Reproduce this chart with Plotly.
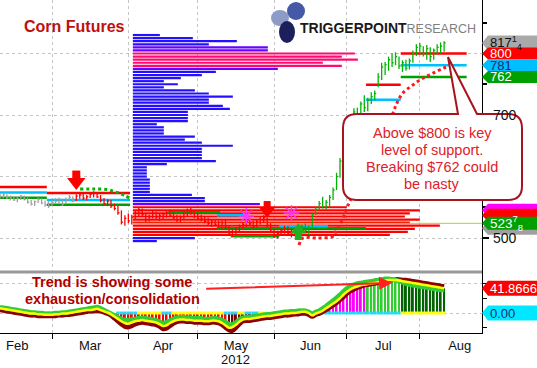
import numpy as np
import pandas as pd
import plotly.graph_objects as go
from fractions import Fraction

# ---------------- DATA ----------------
HOLIDAYS = ["2012-02-20", "2012-04-06", "2012-05-28", "2012-07-04"]
FIRST_DAY = "2012-02-08"
LAST_DAY = "2012-08-10"
trade_dates = pd.bdate_range(FIRST_DAY, LAST_DAY, freq="C", holidays=HOLIDAYS)

# daily high / low / close  (Feb | Mar | Apr | May | Jun | Jul | Aug)
price_high = [572, 573, 571, 569, 568, 567, 570, 569, 566, 562, 561, 566, 565, 561, 560,
              562, 565, 566, 564, 566, 570, 568, 571, 574, 572, 570, 575, 576, 574, 570, 565, 563, 562, 556, 552, 545, 537,
              540, 538, 545, 550, 548, 540, 538, 544, 543, 539, 541, 544, 546, 542, 538, 537, 543, 548, 550, 545,
              541, 538, 536, 533, 530, 531, 528, 529, 530, 520, 515, 518, 522, 526, 530, 532, 528, 530, 534, 537, 533, 524,
              515, 512, 516, 520, 519, 514, 517, 520, 522, 524, 520, 541, 550, 560, 567, 562, 570, 582, 606, 630, 656,
              680, 700, 711, 712, 722, 732, 728, 737, 740, 768, 785, 786, 795, 800, 802, 795, 789, 790, 792, 805, 815,
              817, 812, 814, 810, 808, 815, 818, 820]
price_low = [564, 565, 563, 561, 560, 558, 562, 561, 556, 553, 552, 557, 555, 551, 549,
             552, 556, 556, 552, 555, 560, 558, 560, 564, 562, 561, 565, 566, 565, 558, 553, 552, 549, 545, 538, 522, 520,
             524, 522, 530, 536, 535, 526, 527, 532, 531, 528, 530, 533, 534, 530, 526, 525, 531, 536, 538, 532,
             529, 527, 524, 520, 518, 519, 516, 515, 514, 505, 502, 505, 510, 514, 518, 519, 515, 517, 522, 525, 518, 508,
             500, 499, 504, 507, 505, 501, 503, 508, 510, 510, 505, 515, 538, 545, 548, 546, 550, 562, 578, 598, 624,
             650, 672, 690, 695, 698, 705, 706, 718, 724, 745, 757, 765, 772, 778, 781, 775, 770, 772, 774, 785, 796,
             798, 795, 790, 786, 790, 798, 800, 803]
price_close = [568, 570, 566, 565, 562, 564, 568, 563, 558, 555, 559, 563, 557, 554, 552,
               558, 560, 563, 555, 562, 566, 560, 568, 570, 565, 567, 571, 573, 567, 561, 556, 560, 552, 548, 541, 526, 532,
               528, 534, 540, 546, 538, 530, 535, 540, 534, 536, 538, 541, 537, 533, 530, 534, 540, 545, 542, 535,
               532, 531, 527, 524, 526, 522, 520, 525, 518, 508, 510, 514, 518, 522, 527, 523, 519, 526, 530, 533, 521, 511,
               504, 507, 512, 515, 508, 506, 513, 516, 518, 513, 517, 538, 546, 556, 551, 558, 566, 578, 600, 625, 650,
               676, 695, 705, 700, 718, 712, 724, 730, 735, 762, 778, 782, 790, 785, 795, 780, 785, 776, 788, 800, 810,
               812, 800, 808, 795, 805, 810, 812, 817.25]

# oscillator panel: momentum (yellow line / histogram), fast (green), slow (dark red)
osc_value = [8, 7, 6, 5, 4, 3, 2, 1, 0, -1, -1, -2, -2, -3, -3,
             -3, -2, -2, -1, -1, 0, 1, 2, 3, 4, 5, 5, 6, 7, 5, 3, 1, -2, -6, -10, -14, -17,
             -18, -16, -14, -13, -12, -13, -14, -15, -16, -19, -22, -21, -17, -14, -12, -11, -11, -12, -12, -13,
             -13, -13, -14, -14, -13, -13, -14, -17, -21, -25, -24, -20, -15, -11, -10, -10, -9, -8, -7, -6, -5, -5,
             -4, -3, -2, -1, -1, 0, 0, 1, 2, 2, 0, -4, -1, 1, 4, 8, 12, 16, 20, 25, 31,
             36, 40, 43, 45, 47, 48, 49, 50, 51, 52, 54, 55, 56, 56, 56, 55, 54, 53, 52, 51, 50,
             49, 48, 47, 46, 45, 44, 43, 41.8666]
osc_fast = [10, 9, 8, 7, 6, 5, 4, 3, 2, 1, 1, 0, 0, -1, -1,
            -1, 0, 0, 1, 1, 2, 3, 4, 5, 6, 7, 8, 9, 10, 8, 5, 2, -1, -4, -7, -10, -12,
            -12, -11, -10, -9, -8, -9, -10, -11, -12, -15, -17, -16, -13, -10, -8, -7, -7, -8, -8, -9,
            -9, -9, -10, -10, -9, -9, -10, -12, -15, -19, -19, -16, -11, -8, -7, -7, -6, -5, -4, -3, -2, -2,
            -1, 0, 1, 2, 2, 3, 3, 4, 4, 4, 2, -1, 2, 4, 8, 12, 17, 21, 26, 31, 37,
            42, 46, 48, 50, 51, 52, 53, 54, 55, 56, 57, 58, 58, 57, 56, 54, 52, 50, 48, 47, 46,
            45, 44, 43, 42, 41, 40, 39, 39]
osc_slow = [5, 4, 3, 2, 1, 0, -1, -2, -3, -4, -4, -5, -5, -5, -5,
            -5, -5, -4, -4, -3, -3, -2, -1, 0, 1, 2, 3, 3, 4, 3, 1, -1, -4, -9, -14, -19, -23,
            -24, -22, -19, -17, -16, -17, -18, -19, -20, -23, -27, -26, -22, -18, -15, -14, -14, -15, -15, -16,
            -16, -16, -17, -17, -16, -16, -17, -20, -25, -29, -30, -25, -19, -14, -13, -13, -12, -11, -10, -9, -8, -8,
            -7, -6, -5, -4, -4, -3, -2, -2, -1, -1, -3, -6, -3, -1, 2, 5, 9, 13, 17, 22, 27,
            33, 37, 40, 43, 45, 47, 48, 49, 50, 51, 53, 54, 55, 56, 57, 57, 56, 56, 55, 54, 53,
            52, 51, 50, 49, 48, 47, 46, 45]

# volume-at-price profile (price bins, relative volume)
vp_price = list(range(830, 490, -5))
vp_volume = [27, 60, 104, 76, 135, 135, 222, 209, 225, 190, 209, 145, 83, 69, 48, 31, 45, 31, 62, 76,
             100, 76, 76, 90, 97, 55, 55, 55, 55, 24, 31, 31, 31, 62, 52, 69, 100, 69, 69, 69,
             69, 83, 34, 14, 14, 14, 14, 17, 17, 17, 17, 17, 59, 72, 72, 127, 214, 287, 277, 272,
             287, 277, 307, 282, 275, 257, 62, 24]
VP_START = "2012-04-03"

# support / resistance levels
seg_start = ["2012-02-08"] * 3 + ["2012-02-29"] * 3 + ["2012-04-19", "2012-05-09", "2012-05-09", "2012-05-15",
             "2012-06-05", "2012-07-11", "2012-07-11", "2012-07-25", "2012-07-25", "2012-07-25"]
seg_end = ["2012-02-28"] * 3 + ["2012-04-02"] * 3 + ["2012-05-09", "2012-05-18", "2012-07-10", "2012-06-04",
           "2012-06-22", "2012-07-24", "2012-07-24", "2012-08-20", "2012-08-20", "2012-08-20"]
seg_level = [583, 574, 565.5, 573, 562, 554, 542, 537, 516, 503, 519, 749, 725, 800, 781, 762]
seg_kind = ["R", "C", "G", "R", "C", "G", "G", "C", "G", "G", "C", "R", "C", "R", "C", "G"]

last_line_level = 523.875

# trailing stop curves (trading-day position, price)
trail_green_x = [23.1, 27.0, 30.8, 33.1, 34.6, 36.0, 37.5]
trail_green_y = [579.7, 579.7, 579.0, 575.0, 572.6, 568.8, 564.5]
trail_red_x = [86.2, 87.3, 91.6, 96.0, 97.1, 98.6, 100.0, 101.4, 105.2, 108.9, 113.0, 114.4, 116.1, 119.0, 121.9, 124.8, 127.7, 128.8]
trail_red_y = [488.6, 500, 500, 503, 514.6, 529, 548.8, 566.7, 610, 659, 700, 719.5, 735.8, 748.8, 760, 768, 776, 778]

# signal arrows and stars
arrow_dates = ["2012-03-12", "2012-05-30", "2012-06-12"]
arrow_tip = [578, 532.5, 524.4]
arrow_dir = ["down", "down", "up"]
star_dates = ["2012-05-21", "2012-06-08"]
star_price = [536, 540.7]

# right-hand value tags
main_tags = [817.25, 800, 781, 762]
low_main_tags = [545, 537, 516, 523.875]
osc_tags = [41.8666, 0.0]

# squeeze dots (cyan periods)
cyan_periods = [("2012-03-28", "2012-04-04"), ("2012-04-17", "2012-04-19"), ("2012-05-11", "2012-05-16"),
                ("2012-05-21", "2012-05-24"), ("2012-06-20", "2012-07-24")]
HIST_START = "2012-03-28"

month_names = ["Feb", "Mar", "Apr", "May", "Jun", "Jul", "Aug"]
price_labels = [500, 700]

# ---------------- HELPERS / STYLE ----------------
FONT = "Liberation Sans, Arial, sans-serif"
W, H = 537, 368
PLOT_W, PLOT_H = 482, 333
SPLIT_PX = 270
SPLIT = (PLOT_H - SPLIT_PX) / PLOT_H
Y_MAIN = [448, 887]
Y_LOW = [-33.9, 72.9]
K_MAIN = SPLIT_PX / (Y_MAIN[1] - Y_MAIN[0])
K_LOW = (PLOT_H - SPLIT_PX) / (Y_LOW[1] - Y_LOW[0])
PX_PER_TD = 3.47
X_RANGE = [15 - 52 / PX_PER_TD, 15 + 430 / PX_PER_TD]

RED, CYAN, GREEN = "#ff0000", "#00bfff", "#00a000"
KIND_COLOR = {"R": RED, "C": CYAN, "G": GREEN}


def tidx(d):
    return int(np.busday_count(np.datetime64(FIRST_DAY, "D"), np.datetime64(d, "D"),
                               holidays=[np.datetime64(h, "D") for h in HOLIDAYS]))


def P(X, Y):
    return f"{X / PLOT_W:.5f},{(PLOT_H - Y) / PLOT_H:.5f}"


def fmt_price(v):
    whole = int(v)
    frac = Fraction(v - whole).limit_denominator(8)
    if frac == 0:
        return f"{whole}"
    return f"{whole}<sup>{frac.numerator}</sup><sub>{frac.denominator}</sub>"


n = len(trade_dates)
assert n == len(price_high) == len(price_low) == len(price_close) == len(osc_value) == len(osc_fast) == len(osc_slow)
idx = list(range(n))

fig = go.Figure()

# volume profile
vp_colors = []
for p, v in zip(vp_price, vp_volume):
    if v >= 180:
        vp_colors.append("#ff0a70" if p > 700 else "#ff0000")
    elif v >= 120:
        vp_colors.append("#6a00ff")
    else:
        vp_colors.append("#2410ff")
VP_BASE = tidx(VP_START) + 0.3
fig.add_trace(go.Bar(y=vp_price, x=[v / PX_PER_TD for v in vp_volume], base=VP_BASE,
                     orientation="h", width=3.6, marker=dict(color=vp_colors, line=dict(width=0)),
                     xaxis="x", yaxis="y", hoverinfo="skip"))

# last price line
fig.add_trace(go.Scatter(x=[VP_BASE, X_RANGE[1]], y=[last_line_level] * 2, mode="lines",
                         line=dict(color="#9be600", width=1), xaxis="x", yaxis="y", hoverinfo="skip"))

# support / resistance segments
for kind in ["G", "C", "R"]:
    xs, ys = [], []
    for s, e, lv, k in zip(seg_start, seg_end, seg_level, seg_kind):
        if k != kind:
            continue
        xs += [tidx(s) - 0.5, tidx(e) + 0.5, None]
        ys += [lv, lv, None]
    fig.add_trace(go.Scatter(x=xs, y=ys, mode="lines", line=dict(color=KIND_COLOR[kind], width=2.5),
                             xaxis="x", yaxis="y", hoverinfo="skip"))

# price HLC bars
gray_end = tidx("2012-03-12")
green_start = tidx("2012-06-12")
groups = [("#a0a0a0", range(0, gray_end)), ("#ff0000", range(gray_end, green_start)), ("#00b400", range(green_start, n))]
for col, rng in groups:
    xs, ys = [], []
    for i in rng:
        xs += [i, i, None, i, i + 0.45, None]
        ys += [price_low[i], price_high[i], None, price_close[i], price_close[i], None]
    fig.add_trace(go.Scatter(x=xs, y=ys, mode="lines", line=dict(color=col, width=1.3),
                             xaxis="x", yaxis="y", hoverinfo="skip"))

# trailing dotted curves
fig.add_trace(go.Scatter(x=trail_green_x, y=trail_green_y, mode="lines", line=dict(color="#00b400", width=3, dash="dot", shape="spline"),
                         xaxis="x", yaxis="y", hoverinfo="skip"))
fig.add_trace(go.Scatter(x=trail_red_x, y=trail_red_y, mode="lines", line=dict(color="#ff1a1a", width=3, dash="dot", shape="spline"),
                         xaxis="x", yaxis="y", hoverinfo="skip"))

# signal arrows (block arrows made of triangle head + square stem)
for d, tip, dr in zip(arrow_dates, arrow_tip, arrow_dir):
    xi = tidx(d)
    big = d == arrow_dates[0]
    s = 16 if big else 14
    w = 8 if big else 7
    r = s / 2
    col = "#ff0000" if dr == "down" else "#22b022"
    if dr == "down":
        c = tip + r / K_MAIN
        top = c + (r / 2) / K_MAIN
        stem = top + (w / 2 - 0.5) / K_MAIN
        sym = "triangle-down"
    else:
        c = tip - r / K_MAIN
        top = c - (r / 2) / K_MAIN
        stem = top - (w / 2 - 0.5) / K_MAIN
        sym = "triangle-up"
    fig.add_trace(go.Scatter(x=[xi], y=[stem], mode="markers", marker=dict(symbol="square", size=w, color=col, line=dict(width=0)),
                             xaxis="x", yaxis="y", hoverinfo="skip"))
    fig.add_trace(go.Scatter(x=[xi], y=[c], mode="markers", marker=dict(symbol=sym, size=s, color=col, line=dict(width=0)),
                             xaxis="x", yaxis="y", hoverinfo="skip"))

fig.add_trace(go.Scatter(x=[tidx(d) for d in star_dates], y=star_price, mode="markers",
                         marker=dict(symbol="asterisk-open", size=13, color="#ff33ff", line=dict(color="#ff33ff", width=1.5)),
                         xaxis="x", yaxis="y", hoverinfo="skip"))

# ---------------- oscillator panel ----------------
h0 = tidx(HIST_START)
dark_a, dark_b = tidx("2012-05-14"), tidx("2012-05-30")
lg_a, dg_a = tidx("2012-07-11"), tidx("2012-07-25")
hx, hy, hc = [], [], []
for i in range(h0, n):
    v = osc_value[i]
    if v < 0:
        col = "#7a0000" if dark_a <= i <= dark_b else "#ff0000"
    else:
        col = "#ff00ff" if i < lg_a else ("#33cc33" if i < dg_a else "#006400")
    hx.append(i)
    hy.append(v)
    hc.append(col)
fig.add_trace(go.Bar(x=hx, y=hy, width=0.55, marker=dict(color=hc, line=dict(width=0)), xaxis="x", yaxis="y2", hoverinfo="skip"))

cyan_idx = set()
for a, b in cyan_periods:
    cyan_idx.update(range(tidx(a), tidx(b) + 1))
sx = list(range(h0, n))
sc = ["#22d8f5" if i in cyan_idx else "#ffff00" for i in sx]
fig.add_trace(go.Bar(x=sx, y=[5.0] * len(sx), base=-2.5, width=1.0, marker=dict(color=sc, line=dict(width=0)),
                     xaxis="x", yaxis="y2", hoverinfo="skip"))

fig.add_trace(go.Scatter(x=idx, y=osc_slow, mode="lines", line=dict(color="#8b0000", width=4.5, shape="spline"),
                         xaxis="x", yaxis="y2", hoverinfo="skip"))
fig.add_trace(go.Scatter(x=idx, y=osc_fast, mode="lines", line=dict(color="#33cc33", width=4.5, shape="spline"),
                         xaxis="x", yaxis="y2", hoverinfo="skip"))
fig.add_trace(go.Scatter(x=idx, y=osc_value, mode="lines", line=dict(color="#ffff00", width=2.5, shape="spline"),
                         xaxis="x", yaxis="y2", hoverinfo="skip"))

# ---------------- axes ----------------
bounds = [tidx(f"2012-{m:02d}-01") for m in range(2, 10)]   # Feb..Sep first trading days
month_mid = [(bounds[i] + bounds[i + 1]) / 2 for i in range(len(month_names))]
grid = dict(gridcolor="#c4c4c4", griddash="dot", gridwidth=1)

fig.update_layout(
    template="none",
    width=W, height=H, margin=dict(l=0, r=W - PLOT_W, t=0, b=H - PLOT_H, pad=0, autoexpand=False),
    paper_bgcolor="white", plot_bgcolor="white", showlegend=False, barmode="overlay",
    font=dict(family=FONT, color="#111"), hovermode=False,
    xaxis=dict(domain=[0, 1], range=X_RANGE, anchor="y2", automargin=False, showline=True, linecolor="black", linewidth=1,
               tickmode="array", tickvals=month_mid, ticktext=month_names, ticks="", showgrid=False, zeroline=False,
               tickfont=dict(size=13, color="#111"),
               minor=dict(tickmode="array", tickvals=bounds[1:7], ticks="outside", ticklen=5, tickcolor="black",
                          showgrid=True, **grid)),
    yaxis=dict(domain=[SPLIT, 1], range=Y_MAIN, side="right", anchor="x", automargin=False, showline=True, linecolor="black",
               tickmode="array", tickvals=[500, 600, 700, 800], showticklabels=False,
               ticks="outside", ticklen=6, tickwidth=2, tickcolor="black", showgrid=True, zeroline=False,
               minor=dict(tickmode="array", tickvals=[550, 650, 750, 850], ticks="outside", ticklen=4, tickcolor="black",
                          showgrid=False), **grid),
    yaxis2=dict(domain=[0, SPLIT], range=Y_LOW, side="right", anchor="x", automargin=False, showline=True, linecolor="black",
                tickmode="array", tickvals=[0, 50], showticklabels=False, ticks="outside", ticklen=4, tickcolor="black",
                showgrid=True, zeroline=False,
                minor=dict(tickmode="array", tickvals=[-25, 25], ticks="outside", ticklen=4, tickcolor="black",
                           showgrid=False), **grid),
)

shapes = []
annotations = []

# separator between panels
shapes.append(dict(type="line", xref="paper", yref="paper", x0=0, x1=1, y0=(PLOT_H - 272) / PLOT_H, y1=(PLOT_H - 272) / PLOT_H,
                   line=dict(color="#999999", width=3), layer="above"))

# callout box (drawn first so the axis labels/tags sit above it)
r = 14
L_, R_, T_, B_ = 343, 522, 114, 200
callout = (f"M {P(L_ + r, T_)} L {P(458, T_)} L {P(448, 57)} L {P(477, T_)} L {P(R_ - r, T_)} "
           f"Q {P(R_, T_)} {P(R_, T_ + r)} L {P(R_, B_ - r)} Q {P(R_, B_)} {P(R_ - r, B_)} "
           f"L {P(L_ + r, B_)} Q {P(L_, B_)} {P(L_, B_ - r)} L {P(L_, T_ + r)} Q {P(L_, T_)} {P(L_ + r, T_)} Z")
shapes.append(dict(type="path", xref="paper", yref="paper", path=callout, fillcolor="white",
                   line=dict(color="#a8141e", width=2), layer="above"))
for txt, yy in zip(["Above $800 is key", "level of support.", "Breaking $762 could", "be nasty"], [133, 150, 167, 184]):
    annotations.append(dict(x=432 / PLOT_W, y=(PLOT_H - yy) / PLOT_H, xref="paper", yref="paper", text=txt,
                            showarrow=False, xanchor="center", yanchor="middle",
                            font=dict(size=14.5, color="#e0202a")))

# price axis labels (drawn as text so they stay above the callout, as in the original)
for v in price_labels:
    annotations.append(dict(x=1.0 + 9 / PLOT_W, xref="paper", y=v, yref="y", text=str(v), showarrow=False,
                            xanchor="left", yanchor="middle", font=dict(size=14, color="#111")))


def add_tag(val, yref, k, half_px, fill, text=None, tcolor="white", size=13):
    h = half_px / k
    xa, xb, xc = 1.0, 1.0 + 6 / PLOT_W, 1.0 + 60 / PLOT_W
    shapes.append(dict(type="path", xref="paper", yref=yref,
                       path=f"M {xa},{val} L {xb},{val + h} L {xc},{val + h} L {xc},{val - h} L {xb},{val - h} Z",
                       fillcolor=fill, line=dict(width=0), layer="above"))
    if text is not None:
        annotations.append(dict(x=1.0 + 7 / PLOT_W, xref="paper", y=val, yref=yref, text=text, showarrow=False,
                                xanchor="left", yanchor="middle", borderpad=0, font=dict(size=size, color=tcolor)))


main_tag_fill = ["#a9a9a9", "#ff0000", "#00bfff", "#00a000"]
main_tag_text = ["#111111", "white", "#14287a", "white"]
for v, f, tc, hp in zip(main_tags, main_tag_fill, main_tag_text, [7.5, 6, 6, 6]):
    add_tag(v, "y", K_MAIN, hp, f, fmt_price(v), tc, 13)

low_fill = ["#ff00ff", "#ff0000", "#a0a0a0", "#00a000"]
for v, f in zip(low_main_tags, low_fill):
    add_tag(v, "y", K_MAIN, 6.5, f, fmt_price(v) if v == last_line_level else None, "white", 13.5)

for v, f, tc in zip(osc_tags, ["#ff0000", "#00e8ff"], ["white", "#14287a"]):
    add_tag(v, "y2", K_LOW, 7.5, f, f"{v:.4f}".rstrip("0") if v else "0.00", tc, 13)

# logo
for cx, cy, rx, ry, col in [(280, 18, 9, 8, "#8d9cc6"), (296, 11, 9, 9, "#4559a6"), (287, 32, 8, 11, "#1b1f5c")]:
    shapes.append(dict(type="circle", xref="paper", yref="paper", x0=(cx - rx) / PLOT_W, x1=(cx + rx) / PLOT_W,
                       y0=(PLOT_H - cy - ry) / PLOT_H, y1=(PLOT_H - cy + ry) / PLOT_H, fillcolor=col,
                       line=dict(width=0), layer="above"))
annotations.append(dict(x=298 / PLOT_W, y=(PLOT_H - 28) / PLOT_H, xref="paper", yref="paper",
                        text='<b>TRIGGERPOINT</b><span style="color:#7f7f7f;font-size:12.5px">RESEARCH</span>',
                        showarrow=False, xanchor="left", yanchor="middle", font=dict(size=14, color="#1a1a1a")))

# title
annotations.append(dict(x=22 / PLOT_W, y=(PLOT_H - 27) / PLOT_H, xref="paper", yref="paper", text="<b>Corn Futures</b>",
                        showarrow=False, xanchor="left", yanchor="middle", font=dict(size=16, color="#bf1010")))

# oscillator comment + arrow
for txt, yy in zip(["Trend is showing some", "exhaustion/consolidation"], [282, 299]):
    annotations.append(dict(x=112 / PLOT_W, y=(PLOT_H - yy) / PLOT_H, xref="paper", yref="paper", text=f"<b>{txt}</b>",
                            showarrow=False, xanchor="center", yanchor="middle", font=dict(size=14.5, color="#b00000")))
annotations.append(dict(x=tidx("2012-07-20"), y=51, xref="x", yref="y2", ax=tidx("2012-05-03"), ay=41,
                        axref="x", ayref="y2", text="", showarrow=True, arrowhead=2, arrowsize=1.3, arrowwidth=2,
                        arrowcolor="#ff2020"))

# year label
annotations.append(dict(x=month_mid[3], y=-(359 - PLOT_H) / PLOT_H, xref="x", yref="paper", text="2012",
                        showarrow=False, xanchor="center", yanchor="middle", font=dict(size=13, color="#111")))

fig.update_layout(shapes=shapes, annotations=annotations)
fig.write_html("out.html", include_plotlyjs=True, config={"displayModeBar": False},
               post_script="document.body.style.margin='0px';document.body.style.overflow='hidden';")
